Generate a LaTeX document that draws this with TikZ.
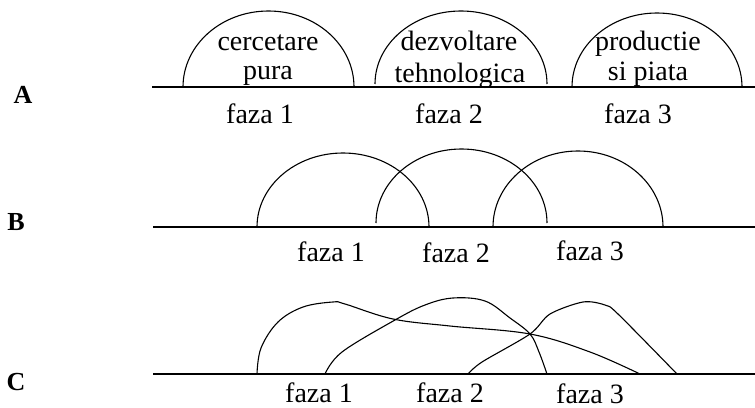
\documentclass[tikz,border=0pt]{standalone}
\usepackage{fontspec}
\setmainfont{Liberation Serif}
\begin{document}
\begin{tikzpicture}[x=1pt,y=-1pt,
  lbl/.style={anchor=base,inner sep=0pt,font=\fontsize{28}{30}\selectfont},
  rowlbl/.style={anchor=base,inner sep=0pt,font=\fontsize{26}{30}\selectfont\bfseries},
  ln/.style={line width=1.1pt},
  cv/.style={line width=1.1pt}]
\useasboundingbox (0,0) rectangle (755,407);
% Row A
\node[rowlbl] (A) at (23,103) {A};
\draw[ln] (152,87) -- (755,87);
\draw[cv] (183,87) arc[start angle=180,end angle=360,x radius=85.5,y radius=76];
\draw[cv] (375,84) arc[start angle=180,end angle=360,x radius=86,y radius=73];
\draw[cv] (572,87) arc[start angle=180,end angle=360,x radius=85,y radius=74];
\node[lbl] (a1) at (268,50) {cercetare};
\node[lbl] (a1b) at (268,79) {pura};
\node[lbl] (a2) at (459,50) {dezvoltare};
\node[lbl] (a2b) at (460,82) {tehnologica};
\node[lbl] (a3) at (648,50) {productie};
\node[lbl] (a3b) at (648,80) {si piata};
\node[lbl] (fa1) at (260,123) {faza 1};
\node[lbl] (fa2) at (449,123) {faza 2};
\node[lbl] (fa3) at (638,123) {faza 3};
% Row B
\node[rowlbl] (B) at (16,230) {B};
\draw[ln] (153,227) -- (755,227);
\draw[cv] (257,227) arc[start angle=180,end angle=360,x radius=86,y radius=74];
\draw[cv] (376,223) arc[start angle=180,end angle=360,x radius=85.5,y radius=74];
\draw[cv] (493,227) arc[start angle=180,end angle=360,x radius=85,y radius=76];
\node[lbl] (fb1) at (331,261) {faza 1};
\node[lbl] (fb2) at (456,262) {faza 2};
\node[lbl] (fb3) at (590,260) {faza 3};
% Row C
\node[rowlbl] (C) at (16,390) {C};
\draw[ln] (153,374) -- (755,374);
\draw[cv] plot[smooth,tension=0.6] coordinates {(257,374) (261,348) (278,322) (303,307) (333,302) (345,304) (393,319) (450,326) (530,334) (590,352) (640,374)};
\draw[cv] plot[smooth,tension=0.6] coordinates {(325,374) (342,352) (395,320) (425,305) (453,298) (485,301) (510,318) (530,334) (539,352) (547,374)};
\draw[cv] plot[smooth,tension=0.5] coordinates {(468,374) (482,362) (530,334) (550,314) (583,302) (605,305) (618,314) (677,374)};
\node[lbl] (fc1) at (319,402) {faza 1};
\node[lbl] (fc2) at (450,402) {faza 2};
\node[lbl] (fc3) at (590,403) {faza 3};
\end{tikzpicture}
\end{document}
